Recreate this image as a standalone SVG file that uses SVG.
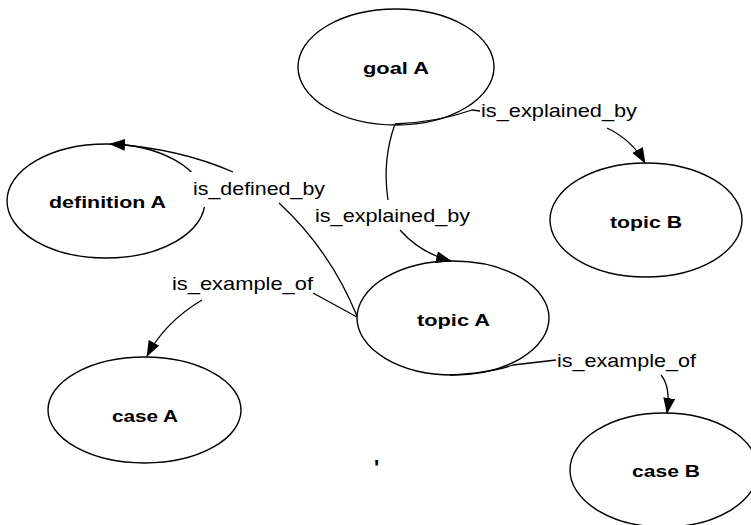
<svg xmlns="http://www.w3.org/2000/svg" width="751" height="525" viewBox="0 0 751 525">
  <style>
    .node ellipse { fill: #ffffff; stroke: #000000; stroke-width: 1.4; }
    .node text { font-family: "Liberation Sans", Arial, sans-serif; font-weight: bold; font-size: 17px; fill: #000000; }
    .edge path { fill: none; stroke: #000000; stroke-width: 1.3; }
    .lbl { font-family: "Liberation Sans", Arial, sans-serif; font-size: 19px; fill: #000000; }
    .bg { fill: #ffffff; stroke: none; }
  </style>
  <defs>
    <marker id="arrow" markerUnits="userSpaceOnUse" markerWidth="16" markerHeight="12" refX="15" refY="6" orient="auto">
      <path d="M0,0 L16,6 L0,12 Z" fill="#000000"/>
    </marker>
  </defs>
  <rect x="0" y="0" width="751" height="525" fill="#ffffff"/>

  <g id="goalA" class="node">
    <ellipse cx="396" cy="67" rx="98" ry="58"/>
    <text x="363" y="74" textLength="66" lengthAdjust="spacingAndGlyphs">goal A</text>
  </g>
  <g id="definitionA" class="node">
    <ellipse cx="106" cy="201" rx="99" ry="57"/>
    <text x="49" y="208" textLength="117" lengthAdjust="spacingAndGlyphs">definition A</text>
  </g>
  <g id="topicB" class="node">
    <ellipse cx="646" cy="220" rx="96" ry="57"/>
    <text x="610" y="228" textLength="72" lengthAdjust="spacingAndGlyphs">topic B</text>
  </g>
  <g id="topicA" class="node">
    <ellipse cx="453" cy="318" rx="96" ry="57"/>
    <text x="417" y="326" textLength="73" lengthAdjust="spacingAndGlyphs">topic A</text>
  </g>
  <g id="caseA" class="node">
    <ellipse cx="144.5" cy="410" rx="96.5" ry="53"/>
    <text x="112" y="422" textLength="66" lengthAdjust="spacingAndGlyphs">case A</text>
  </g>
  <g id="caseB" class="node">
    <ellipse cx="664" cy="470" rx="94" ry="57"/>
    <text x="632" y="477" textLength="68" lengthAdjust="spacingAndGlyphs">case B</text>
  </g>

  <g id="connectors" class="edge">
    <!-- goal A -> topic B -->
    <path d="M395,124 Q438,122 472,110 L480,111"/>
    <path d="M607,128 Q632,140 645,163" marker-end="url(#arrow)"/>
    <text class="lbl" x="481" y="117" textLength="156" lengthAdjust="spacingAndGlyphs">is_explained_by</text>

    <!-- goal A -> topic A -->
    <path d="M395,124 Q382,160 388,200"/>
    <path d="M400,230 Q420,253 451,261" marker-end="url(#arrow)"/>
    <text class="lbl" x="315" y="222" textLength="155" lengthAdjust="spacingAndGlyphs">is_explained_by</text>

    <!-- topic A -> definition A -->
    <rect class="bg" x="190" y="172" width="138" height="35"/>
    <path d="M357,316 Q330,250 279,203"/>
    <path d="M233,172 Q178,148 110,144" marker-end="url(#arrow)"/>
    <text class="lbl" x="193" y="195" textLength="132" lengthAdjust="spacingAndGlyphs">is_defined_by</text>

    <!-- topic A -> case A -->
    <path d="M357,317 L313,293"/>
    <path d="M202,300 Q165,322 147,356" marker-end="url(#arrow)"/>
    <text class="lbl" x="172" y="290" textLength="141" lengthAdjust="spacingAndGlyphs">is_example_of</text>

    <!-- topic A -> case B -->
    <path d="M450,375 Q490,373 513,365 L556,360"/>
    <path d="M661,375 Q671,387 667,413" marker-end="url(#arrow)"/>
    <text class="lbl" x="557" y="367" textLength="139" lengthAdjust="spacingAndGlyphs">is_example_of</text>
  </g>

  <text x="374" y="475" font-family="Liberation Sans, Arial, sans-serif" font-size="22" font-weight="bold" fill="#000000">'</text>
</svg>
